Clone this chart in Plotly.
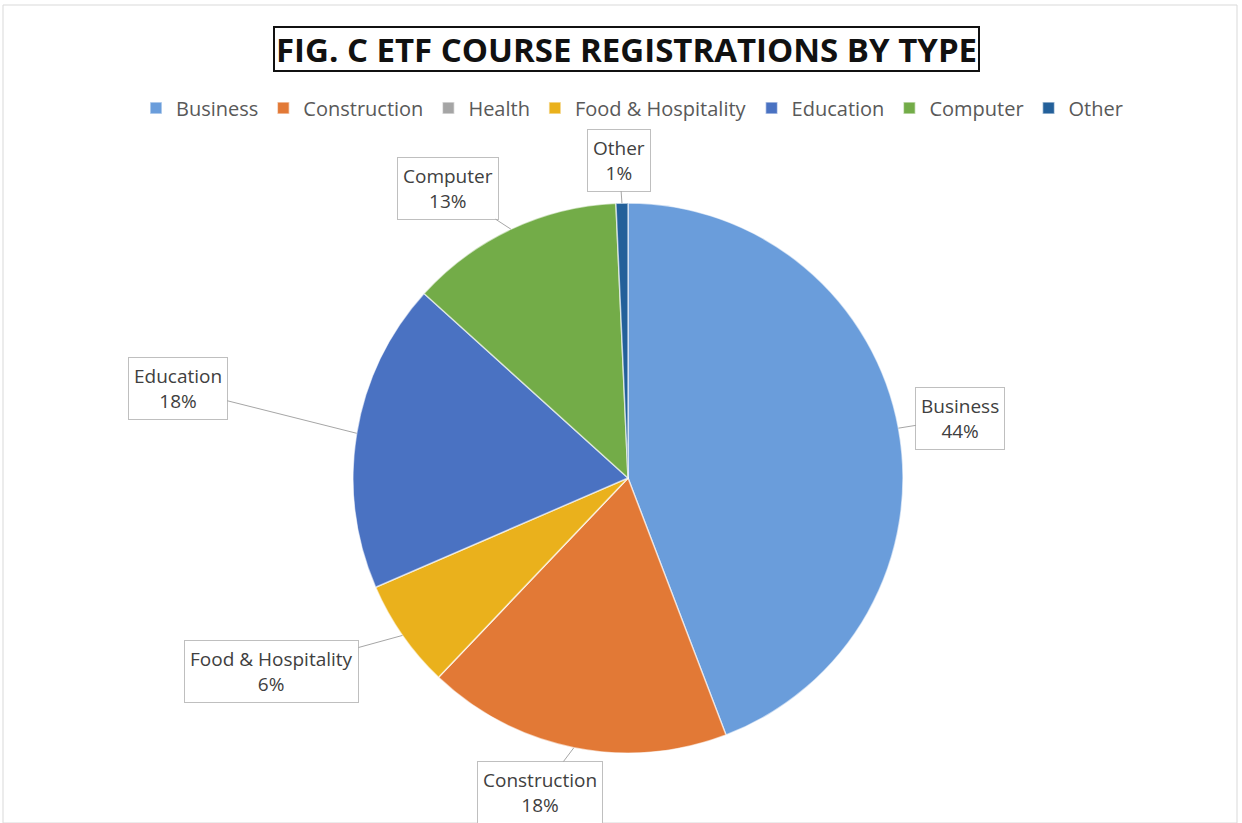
import math
import plotly.graph_objects as go

# ---- data ----
categories = ["Business", "Construction", "Health", "Food & Hospitality", "Education", "Computer", "Other"]
values = [44.2, 17.9, 0.0, 6.4, 18.2, 12.6, 0.7]
colors = ["#6A9DDB", "#E27936", "#A5A5A5", "#EAB11C", "#4A72C2", "#73AC48", "#23609A"]

title_text = "FIG. C ETF COURSE REGISTRATIONS BY TYPE"

# ---- layout constants ----
W, H = 1242, 823
cx, cy, R = 628, 478, 275          # pie centre / radius in pixels
# label box offsets (pixels) from the slice edge point
label_offsets = {
    "Business": (62, -10),
    "Construction": (-34, 45),
    "Food & Hospitality": (-131, 36),
    "Education": (-179, -45),
    "Computer": (-63, -41),
    "Other": (-3, -43),
}
FONT = "Open Sans, Carlito, Calibri, sans-serif"

fig = go.Figure()
fig.add_trace(go.Pie(
    labels=categories,
    values=values,
    sort=False,
    direction="clockwise",
    rotation=0,
    marker=dict(colors=colors, line=dict(color="rgba(255,255,255,0.6)", width=1.5)),
    textinfo="none",
    hoverinfo="label+percent",
    domain=dict(x=[(cx - R) / W, (cx + R) / W], y=[(H - cy - R) / H, (H - cy + R) / H]),
))

# callout labels computed from the data
total = sum(values)
cum = 0.0
annotations = []
for name, v in zip(categories, values):
    mid = cum + v / 2
    cum += v
    if v <= 0:
        continue
    ang = mid / total * 2 * math.pi
    px = cx + R * math.sin(ang)
    py = cy - R * math.cos(ang)
    ax, ay = label_offsets[name]
    pct = round(v / total * 100)
    annotations.append(dict(
        x=px / W, y=1 - py / H, xref="paper", yref="paper",
        text=f"{name}<br>{pct}%",
        showarrow=True, arrowhead=0, arrowwidth=1, arrowcolor="#A6A6A6",
        ax=ax, ay=ay, axref="pixel", ayref="pixel",
        bgcolor="white", bordercolor="#BFBFBF", borderwidth=1, borderpad=5,
        font=dict(family=FONT, size=19, color="#404040"),
        align="center",
    ))

# boxed title
annotations.append(dict(
    x=626.5 / W, y=1 - 49.5 / H, xref="paper", yref="paper",
    text=f"<b>{title_text}</b>", showarrow=False,
    font=dict(family=FONT, size=33, color="#111111"),
    bordercolor="#111111", borderwidth=2, borderpad=1, bgcolor="white",
    height=40, valign="middle",
    xanchor="center", yanchor="middle",
))

fig.update_layout(
    width=W, height=H,
    margin=dict(l=0, r=0, t=0, b=0),
    paper_bgcolor="white",
    showlegend=True,
    legend=dict(
        orientation="h", x=632 / W, xanchor="center", y=1 - 108 / H, yanchor="middle",
        font=dict(family=FONT, size=20, color="#595959"),
        traceorder="normal",
    ),
    annotations=annotations,
    shapes=[dict(type="rect", xref="paper", yref="paper", x0=3 / W, x1=1237 / W, y0=0, y1=1 - 5 / H,
                 line=dict(color="#D9D9D9", width=1))],
)

fig.write_html("out.html", config={"displayModeBar": False},
               post_script="document.body.style.margin='0';document.body.style.overflow='hidden';")
